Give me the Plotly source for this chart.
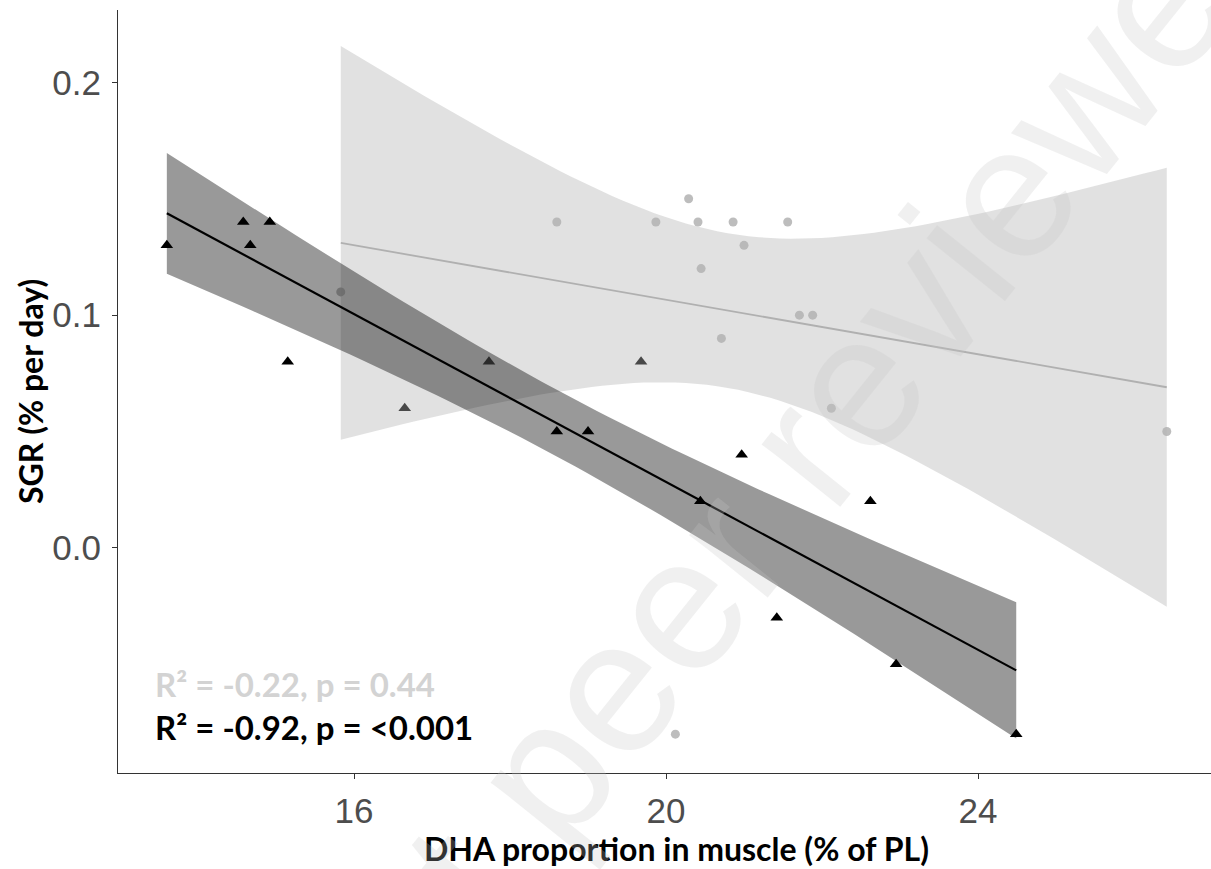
import numpy as np
import plotly.graph_objects as go

# ---- data ----
# group with black triangles
dha_black = [13.60, 14.58, 14.67, 14.92, 15.15, 16.65, 17.73, 18.60, 19.00, 19.68,
             20.44, 20.97, 21.42, 22.62, 22.95, 24.49]
sgr_black = [0.13, 0.14, 0.13, 0.14, 0.08, 0.06, 0.08, 0.05, 0.05, 0.08,
             0.02, 0.04, -0.03, 0.02, -0.05, -0.08]
# group with grey circles
dha_grey = [15.83, 18.60, 19.87, 20.29, 20.41, 20.45, 20.86, 21.00, 20.71, 21.56,
            21.71, 21.88, 22.12, 20.12, 26.42]
sgr_grey = [0.11, 0.14, 0.14, 0.15, 0.14, 0.12, 0.14, 0.13, 0.09, 0.14,
            0.10, 0.10, 0.06, -0.08, 0.05]

x_ticks = [16, 20, 24]
y_ticks = [0.0, 0.1, 0.2]
y_ticktext = ["0.0", "0.1", "0.2"]
label_grey = "R² = -0.22, p = 0.44"
label_black = "R² = -0.92, p = <0.001"

T975 = {13: 2.1604, 14: 2.1448}


def lm_fit(x, y, n_grid=80):
    x = np.asarray(x, float)
    y = np.asarray(y, float)
    n = len(x)
    xm = x.mean()
    sxx = ((x - xm) ** 2).sum()
    b = ((x - xm) * (y - y.mean())).sum() / sxx
    a = y.mean() - b * xm
    resid = y - (a + b * x)
    s = np.sqrt((resid ** 2).sum() / (n - 2))
    g = np.linspace(x.min(), x.max(), n_grid)
    fit = a + b * g
    se = s * np.sqrt(1.0 / n + (g - xm) ** 2 / sxx)
    t = T975[n - 2]
    return g, fit, fit - t * se, fit + t * se


gb, fb, lb, ub = lm_fit(dha_black, sgr_black)
gg, fg, lg, ug = lm_fit(dha_grey, sgr_grey)

fig = go.Figure()

# points
fig.add_trace(go.Scatter(x=dha_black, y=sgr_black, mode="markers",
                         marker=dict(symbol="triangle-up", size=11, color="black",
                                     line=dict(width=0)), showlegend=False))
fig.add_trace(go.Scatter(x=dha_grey, y=sgr_grey, mode="markers",
                         marker=dict(symbol="circle", size=9, color="#bdbdbd",
                                     line=dict(width=0)), showlegend=False))

# grey ribbon and line
fig.add_trace(go.Scatter(x=np.concatenate([gg, gg[::-1]]),
                         y=np.concatenate([ug, lg[::-1]]),
                         fill="toself", fillcolor="rgba(179,179,179,0.4)",
                         line=dict(width=0), mode="lines", showlegend=False,
                         hoverinfo="skip"))
fig.add_trace(go.Scatter(x=gg, y=fg, mode="lines",
                         line=dict(color="#b0b0b0", width=1.8), showlegend=False))

# black ribbon and line
fig.add_trace(go.Scatter(x=np.concatenate([gb, gb[::-1]]),
                         y=np.concatenate([ub, lb[::-1]]),
                         fill="toself", fillcolor="rgba(0,0,0,0.4)",
                         line=dict(width=0), mode="lines", showlegend=False,
                         hoverinfo="skip"))
fig.add_trace(go.Scatter(x=gb, y=fb, mode="lines",
                         line=dict(color="black", width=2.2), showlegend=False))

title_font = dict(family="Lato", size=32, color="black", weight="bold")
tick_font = dict(family="Liberation Sans", size=35, color="#4d4d4d")

fig.update_layout(
    width=1211, height=869,
    margin=dict(l=118, r=0, t=10, b=96),
    paper_bgcolor="white", plot_bgcolor="white",
    showlegend=False,
    xaxis=dict(range=[12.974, 26.987], tickvals=x_ticks, ticktext=[str(v) for v in x_ticks],
               showline=True, linecolor="#333333", linewidth=1.3,
               ticks="outside", ticklen=5, tickcolor="#333333", tickwidth=1.3,
               showgrid=False, zeroline=False, tickfont=tick_font,
               ticklabelstandoff=2),
    yaxis=dict(range=[-0.0967, 0.2311], tickvals=y_ticks, ticktext=y_ticktext,
               showline=True, linecolor="#333333", linewidth=1.3,
               ticks="outside", ticklen=5, tickcolor="#333333", tickwidth=1.3,
               showgrid=False, zeroline=False, tickfont=tick_font,
               ticklabelstandoff=4),
)

annotations = [
    dict(text="DHA proportion in muscle (% of PL)", xref="paper", yref="paper",
         x=(676 - 118) / 1093, y=(773 - 848) / 763, xanchor="center", yanchor="middle",
         showarrow=False, font=title_font),
    dict(text="SGR (% per day)", xref="paper", yref="paper",
         x=(30 - 118) / 1093, y=(773 - 392) / 763, xanchor="center", yanchor="middle",
         textangle=-90, showarrow=False, font=title_font),
    dict(text=label_grey, xref="paper", yref="paper",
         x=(153 - 118) / 1093, y=(773 - 684) / 763, xanchor="left", yanchor="middle",
         showarrow=False, font=dict(family="Lato", size=33, color="#d3d3d3", weight="bold")),
    dict(text=label_black, xref="paper", yref="paper",
         x=(153 - 118) / 1093, y=(773 - 727) / 763, xanchor="left", yanchor="middle",
         showarrow=False, font=dict(family="Lato", size=33, color="black", weight="bold")),
    dict(text="Not peer reviewed", xref="paper", yref="paper",
         x=(774 - 118) / 1093, y=(773 - 484) / 763, xanchor="center", yanchor="middle",
         textangle=-51.3, showarrow=False,
         font=dict(family="Liberation Sans", size=190, color="rgba(197,197,197,0.26)")),
]
fig.update_layout(annotations=annotations)

fig.write_html("out.html")
